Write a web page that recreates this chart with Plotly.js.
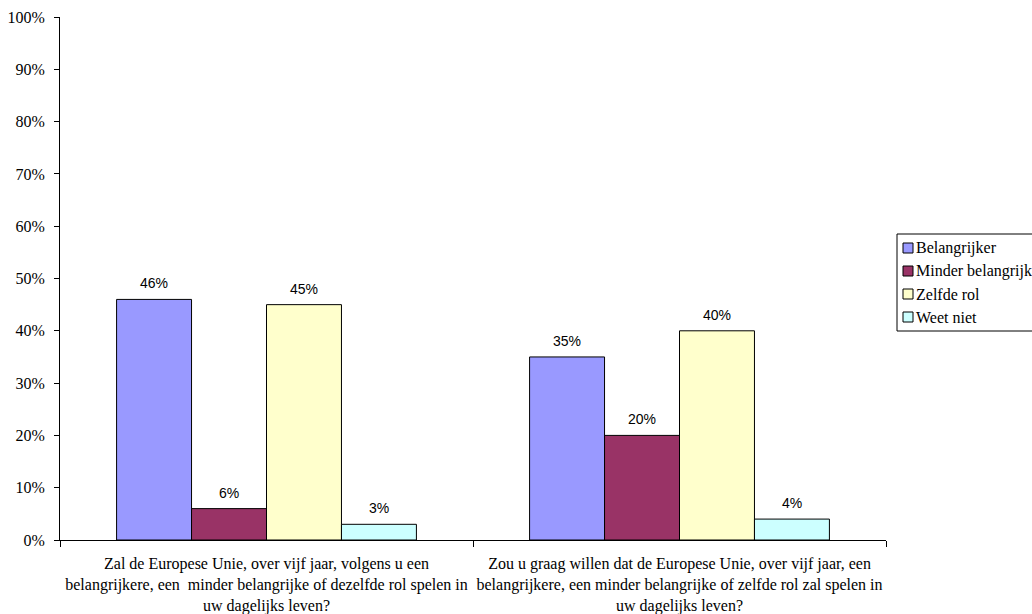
<!DOCTYPE html>
<html>
<head>
<meta charset="utf-8">
<script src="https://cdn.plot.ly/plotly-3.0.1.min.js"></script>
<style>html,body{margin:0;padding:0;background:#fff;}#chart{width:1032px;height:614px;}</style>
</head>
<body>
<div id="chart"></div>
<script>
var categories = [
  "Zal de Europese Unie, over vijf jaar, volgens u een<br>belangrijkere, een  minder belangrijke of dezelfde rol spelen in<br>uw dagelijks leven?",
  "Zou u graag willen dat de Europese Unie, over vijf jaar, een<br>belangrijkere, een minder belangrijke of zelfde rol zal spelen in<br>uw dagelijks leven?"
];
var seriesNames = ["Belangrijker", "Minder belangrijk", "Zelfde rol", "Weet niet"];
var belangrijker = [0.46, 0.35];
var minderBelangrijk = [0.06, 0.20];
var zelfdeRol = [0.45, 0.40];
var weetNiet = [0.03, 0.04];
var colors = ["#9999FF", "#993366", "#FFFFCC", "#CCFFFF"];
var yTickVals = [0,0.1,0.2,0.3,0.4,0.5,0.6,0.7,0.8,0.9,1.0];

var SERIF = 'Times New Roman';
var SANS = 'Arial';
var FS = 16;

var W = 1032, H = 614, L = 60, R = 146, T = 17, B = 74;
var pw = W - L - R, ph = H - T - B;
function px2x(p){ return (p - L) / pw; }
function px2y(p){ return (H - B - p) / ph; }

var bargap = 0.274;
var values = [belangrijker, minderBelangrijk, zelfdeRol, weetNiet];
var traces = values.map(function(v, i){
  return {
    type: "bar", name: seriesNames[i], x: categories, y: v,
    marker: {color: colors[i], line: {color: "#000", width: 1}},
    hoverinfo: "none", showlegend: false
  };
});

var annotations = [];
var nS = values.length;
var bw = (1 - bargap) / nS;
values.forEach(function(v, j){
  v.forEach(function(val, i){
    annotations.push({
      xref: "x", yref: "y", x: i + (j - (nS - 1) / 2) * bw, y: val,
      text: Math.round(val * 100) + "%", showarrow: false,
      yanchor: "bottom", yshift: 6,
      font: {family: SANS, size: 14, color: "#000"}
    });
  });
});

var shapes = [];
var legTop = 234, legBottom = 331, legLeft = 897, legRight = 1045;
shapes.push({type: "rect", xref: "paper", yref: "paper",
  x0: px2x(legLeft), x1: px2x(legRight), y0: px2y(legBottom), y1: px2y(legTop),
  line: {color: "#000", width: 1}, fillcolor: "rgba(0,0,0,0)", layer: "above"});
var itemStart = 248, itemStep = 23;
seriesNames.forEach(function(name, i){
  var cy = itemStart + i * itemStep;
  shapes.push({type: "rect", xref: "paper", yref: "paper",
    x0: px2x(903), x1: px2x(913), y0: px2y(cy + 5), y1: px2y(cy - 5),
    line: {color: "#000", width: 1}, fillcolor: colors[i], layer: "above"});
  annotations.push({xref: "paper", yref: "paper", x: px2x(914), y: px2y(cy),
    xanchor: "left", yanchor: "middle", text: name, showarrow: false,
    font: {family: SERIF, size: FS, color: "#000"}});
});

var layout = {
  width: W, height: H,
  margin: {l: L, r: R, t: T, b: B, autoexpand: false},
  paper_bgcolor: "#fff", plot_bgcolor: "#fff",
  barmode: "group", bargap: bargap, bargroupgap: 0,
  font: {family: SERIF, size: FS, color: "#000"},
  xaxis: {
    type: "category",
    showline: true, linecolor: "#000", linewidth: 1,
    ticks: "outside", tickson: "boundaries", ticklen: 6, tickcolor: "#000",
    tickangle: 0,
    ticklabelstandoff: 9, showgrid: false, zeroline: false,
    tickfont: {family: SERIF, size: FS, color: "#000"}
  },
  yaxis: {
    range: [0, 1], tickvals: yTickVals, tickformat: ".0%",
    showline: true, linecolor: "#000", linewidth: 1,
    ticks: "outside", ticklen: 5, tickcolor: "#000",
    ticklabelstandoff: 6, showgrid: false, zeroline: false,
    tickfont: {family: SERIF, size: FS, color: "#000"}
  },
  showlegend: false, shapes: shapes, annotations: annotations
};

Plotly.newPlot("chart", traces, layout, {displayModeBar: false, staticPlot: true});
</script>
</body>
</html>
